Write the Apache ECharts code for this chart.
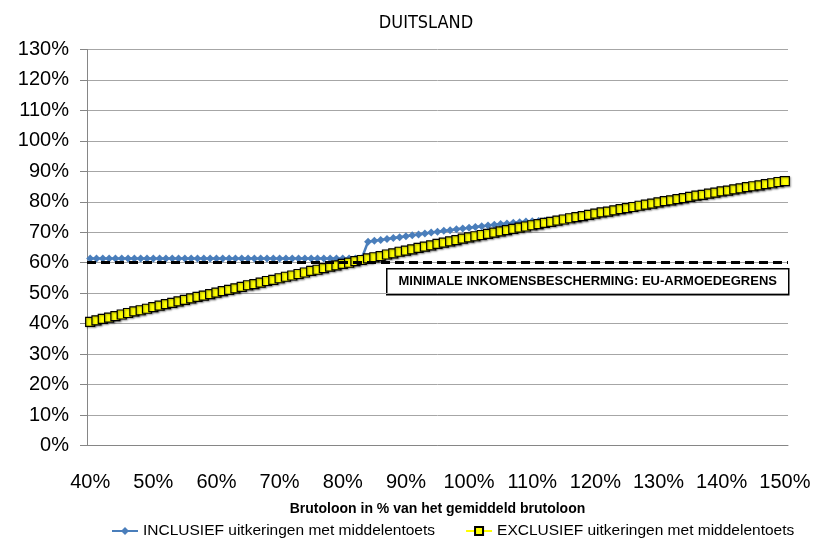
<!DOCTYPE html>
<html>
<head>
<meta charset="utf-8">
<script src="https://cdn.jsdelivr.net/npm/echarts@6/dist/echarts.min.js"></script>
<style>html,body{margin:0;padding:0;background:#fff;}#c{width:816px;height:544px;}</style>
</head>
<body>
<div id="c"></div>
<script>
// ---- data ----
var titleText = 'DUITSLAND';
var xAxisName = 'Brutoloon in % van het gemiddeld brutoloon';
var seriesNames = ['INCLUSIEF uitkeringen met middelentoets', 'EXCLUSIEF uitkeringen met middelentoets'];
var annotationText = 'MINIMALE INKOMENSBESCHERMING: EU-ARMOEDEGRENS';
var povertyLine = 60;
var yTicks = {min: 0, max: 130, interval: 10};

// categories 40% .. 150% (step 1%)
var categories = ['40%','41%','42%','43%','44%','45%','46%','47%','48%','49%',
  '50%','51%','52%','53%','54%','55%','56%','57%','58%','59%',
  '60%','61%','62%','63%','64%','65%','66%','67%','68%','69%',
  '70%','71%','72%','73%','74%','75%','76%','77%','78%','79%',
  '80%','81%','82%','83%','84%','85%','86%','87%','88%','89%',
  '90%','91%','92%','93%','94%','95%','96%','97%','98%','99%',
  '100%','101%','102%','103%','104%','105%','106%','107%','108%','109%',
  '110%','111%','112%','113%','114%','115%','116%','117%','118%','119%',
  '120%','121%','122%','123%','124%','125%','126%','127%','128%','129%',
  '130%','131%','132%','133%','134%','135%','136%','137%','138%','139%',
  '140%','141%','142%','143%','144%','145%','146%','147%','148%','149%','150%'];

var inclusief = [61.4,61.4,61.4,61.4,61.4,61.4,61.4,61.4,61.4,61.4,
  61.4,61.4,61.4,61.4,61.4,61.4,61.4,61.4,61.4,61.4,
  61.4,61.4,61.4,61.4,61.4,61.4,61.4,61.4,61.4,61.4,
  61.4,61.4,61.4,61.4,61.4,61.4,61.4,61.4,61.4,61.4,
  61.4,61.4,61.4,61.4,66.9,67.2,67.5,67.8,68.1,68.4,
  68.7,69.0,69.3,69.6,69.9,70.2,70.5,70.7,71.0,71.2,
  71.5,71.7,72.0,72.2,72.5,72.7,72.9,73.1,73.3,73.5,
  73.6,73.7,73.8,73.9,74.0,74.2,74.6,75.0,75.3,75.7,
  76.1,76.5,76.8,77.2,77.6,77.9,78.3,78.7,79.1,79.4,
  79.8,80.2,80.5,80.9,81.2,81.6,82.0,82.3,82.7,83.0,
  83.4,83.7,84.1,84.4,84.8,85.1,85.4,85.8,86.1,86.5,86.8];

var exclusief = [40.6,41.1,41.6,42.0,42.5,43.0,43.5,44.0,44.4,44.9,
  45.4,45.9,46.4,46.8,47.3,47.8,48.3,48.8,49.2,49.7,
  50.2,50.7,51.1,51.6,52.1,52.6,53.0,53.5,54.0,54.4,
  54.9,55.4,55.8,56.3,56.8,57.3,57.7,58.2,58.7,59.1,
  59.6,60.0,60.5,60.9,61.4,61.8,62.2,62.7,63.1,63.6,
  64.0,64.4,64.9,65.3,65.7,66.2,66.6,67.0,67.4,67.9,
  68.3,68.7,69.1,69.5,69.9,70.3,70.7,71.1,71.5,71.9,
  72.3,72.7,73.1,73.4,73.8,74.2,74.6,75.0,75.3,75.7,
  76.1,76.5,76.8,77.2,77.6,77.9,78.3,78.7,79.1,79.4,
  79.8,80.2,80.5,80.9,81.2,81.6,82.0,82.3,82.7,83.0,
  83.4,83.7,84.1,84.4,84.8,85.1,85.4,85.8,86.1,86.5,86.8];

// ---- chart ----
var chart = echarts.init(document.getElementById('c'), null, {renderer: 'canvas'});
var font = 'Liberation Sans, Arial, sans-serif';
var option = {
  animation: false,
  backgroundColor: '#ffffff',
  textStyle: {fontFamily: font, color: '#000'},
  title: {
    text: titleText, left: 421, top: 9, textAlign: 'center',
    textStyle: {fontSize: 18, fontWeight: 'normal', color: '#000', fontFamily: '"Liberation Sans Narrow", "DejaVu Sans Condensed", Arial, sans-serif'}
  },
  grid: {left: 87, right: 28, top: 49.5, bottom: 98.5, containLabel: false},
  legend: {
    top: 523, left: 111, width: 705, padding: 0, itemWidth: 26, itemHeight: 10, itemGap: 30,
    textStyle: {fontSize: 15.5, color: '#000', fontFamily: font},
    data: seriesNames
  },
  xAxis: {
    type: 'category', data: categories, boundaryGap: true,
    name: xAxisName, nameLocation: 'middle', nameGap: 57,
    nameTextStyle: {fontSize: 14, fontWeight: 'bold', color: '#000'},
    axisLine: {lineStyle: {color: '#868686', width: 1}},
    axisTick: {interval: 4, length: 6, lineStyle: {color: '#868686'}},
    axisLabel: {interval: 9, fontSize: 20, color: '#000', margin: 27},
    splitLine: {show: false}
  },
  yAxis: {
    type: 'value', min: yTicks.min, max: yTicks.max, interval: yTicks.interval,
    axisLine: {show: true, lineStyle: {color: '#868686', width: 1}},
    axisTick: {show: true, length: 7, lineStyle: {color: '#868686'}},
    axisLabel: {fontSize: 20, color: '#000', margin: 18, formatter: '{value}%'},
    splitLine: {lineStyle: {color: '#a6a6a6', width: 1}}
  },
  series: [
    {
      name: seriesNames[0], type: 'line', data: inclusief, z: 2,
      symbol: 'diamond', symbolSize: 8, showAllSymbol: true,
      lineStyle: {color: '#4a7ebb', width: 2.5},
      itemStyle: {color: '#4a7ebb'},
      markLine: {
        silent: true, symbol: 'none', label: {show: false},
        lineStyle: {color: '#000', width: 3, type: [9, 5]},
        data: [{yAxis: povertyLine}]
      }
    },
    {
      name: seriesNames[1], type: 'line', data: exclusief, z: 3,
      symbol: 'rect', symbolSize: 9, showAllSymbol: true,
      lineStyle: {color: '#ffff00', width: 3},
      itemStyle: {color: '#ffff00', borderColor: '#000', borderWidth: 1.2,
        shadowColor: 'rgba(0,0,0,0.35)', shadowBlur: 2, shadowOffsetX: 1, shadowOffsetY: 1}
    }
  ],
  graphic: [
    {
      type: 'group', left: 386, top: 268,
      children: [
        {type: 'rect', shape: {x: 0, y: 0, width: 402, height: 26},
          style: {fill: '#fff', stroke: '#000', lineWidth: 1.5}},
        {type: 'text', x: 201, y: 13,
          style: {text: annotationText, fill: '#000', font: 'bold 13px ' + font,
            textAlign: 'center', textVerticalAlign: 'middle'}}
      ],
      z: 100
    }
  ]
};
chart.setOption(option);
</script>
</body>
</html>
